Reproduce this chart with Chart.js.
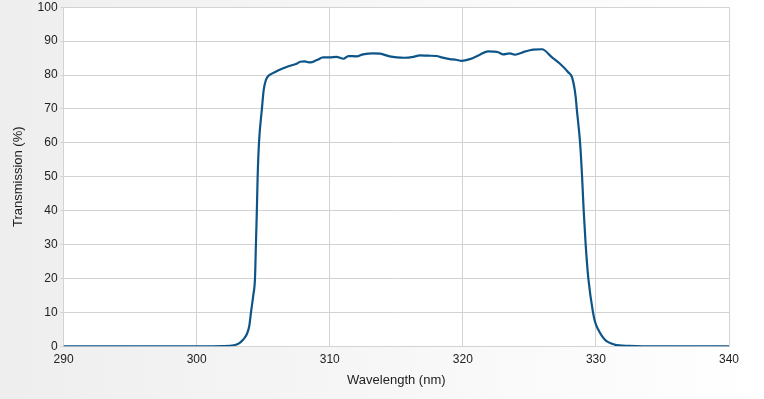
<!DOCTYPE html>
<html>
<head>
<meta charset="utf-8">
<script src="https://cdn.jsdelivr.net/npm/chart.js@4/dist/chart.umd.min.js"></script>
<style>
html,body{margin:0;padding:0;overflow:hidden;}
body{width:764px;height:399px;background:linear-gradient(to right,#eeeeee 0%,#f6f6f6 45%,#ffffff 100%);}
#wrap{position:relative;width:764px;height:402px;margin-top:-3px;}
</style>
</head>
<body>
<div id="wrap"><canvas id="c"></canvas></div>
<script>
const wavelengths = [290,300,302,302.8,303.15,303.5,303.78,303.95,304.08,304.25,304.38,304.45,304.52,304.58,304.68,304.9,305.03,305.2,305.4,305.65,306.15,306.7,307.15,307.5,307.78,308.1,308.53,309.03,309.5,310,310.5,311.03,311.4,312.03,312.5,313.28,313.78,314.5,315.03,315.6,316.28,316.78,317.4,318.03,318.4,319.03,319.5,319.9,320.53,321.28,321.9,322.3,322.65,323.03,323.53,323.9,324.3,324.65,325.28,325.95,326.66,327.28,327.9,328.23,328.48,328.56,328.81,328.96,329.08,329.23,329.43,329.78,329.95,330.16,330.66,331.4,332.5,333.5,340];
const transmission = [0,0,0.05,0.3,0.8,2,3.7,6,10,15,20,30,40,50,60,70,75.5,78.5,79.8,80.4,81.4,82.3,82.9,83.3,83.9,84.0,83.7,84.4,85.2,85.2,85.35,84.8,85.6,85.5,86.1,86.4,86.3,85.5,85.2,85.1,85.35,85.8,85.7,85.6,85.2,84.7,84.5,84.2,84.7,86.0,87.0,86.9,86.7,86.1,86.4,86.0,86.4,86.9,87.5,87.6,85.35,83.4,80.9,79.0,73.5,70,60,50,40,30,20,10,7,5,2,0.5,0.1,0,0];
const xTicks = [290,300,310,320,330,340];
const yTicks = [0,10,20,30,40,50,60,70,80,90,100];
const xTitle = 'Wavelength (nm)';
const yTitle = 'Transmission (%)';

const points = wavelengths.map((w,i)=>({x:w,y:transmission[i]}));

const plotBg = {
  id:'plotBg',
  beforeDraw(chart){
    const {ctx, chartArea:a} = chart;
    ctx.save();
    ctx.fillStyle = '#ffffff';
    ctx.fillRect(a.left, a.top, a.right-a.left, a.bottom-a.top);
    ctx.restore();
  }
};

Chart.defaults.font.family = '"Liberation Sans", Arial, sans-serif';
Chart.defaults.font.size = 12;
Chart.defaults.color = '#222';

new Chart(document.getElementById('c'), {
  type:'line',
  data:{datasets:[{
    data:points,
    borderColor:'#0d5488',
    borderWidth:2.2,
    pointRadius:0,
    cubicInterpolationMode:'monotone',
    fill:false
  }]},
  options:{
    responsive:true,
    maintainAspectRatio:false,
    animation:false,
    layout:{padding:{top:0,right:35,bottom:10.7,left:11}},
    plugins:{legend:{display:false},tooltip:{enabled:false}},
    scales:{
      x:{
        type:'linear',min:290,max:340,
        afterBuildTicks(s){s.ticks = xTicks.map(v=>({value:v}));},
        grid:{color:'#d3d3d3',lineWidth:1,tickLength:3,drawTicks:false},
        border:{color:'#d3d3d3'},
        ticks:{padding:6,maxRotation:0},
        title:{display:true,text:xTitle,font:{size:13},padding:{top:0,bottom:0}}
      },
      y:{
        min:0,max:100,
        afterBuildTicks(s){s.ticks = yTicks.map(v=>({value:v}));},
        grid:{color:'#d3d3d3',lineWidth:1,tickLength:3},
        border:{color:'#d3d3d3'},
        ticks:{padding:3},
        title:{display:true,text:yTitle,font:{size:13},padding:{top:0,bottom:8}}
      }
    }
  },
  plugins:[plotBg]
});
</script>
</body>
</html>
